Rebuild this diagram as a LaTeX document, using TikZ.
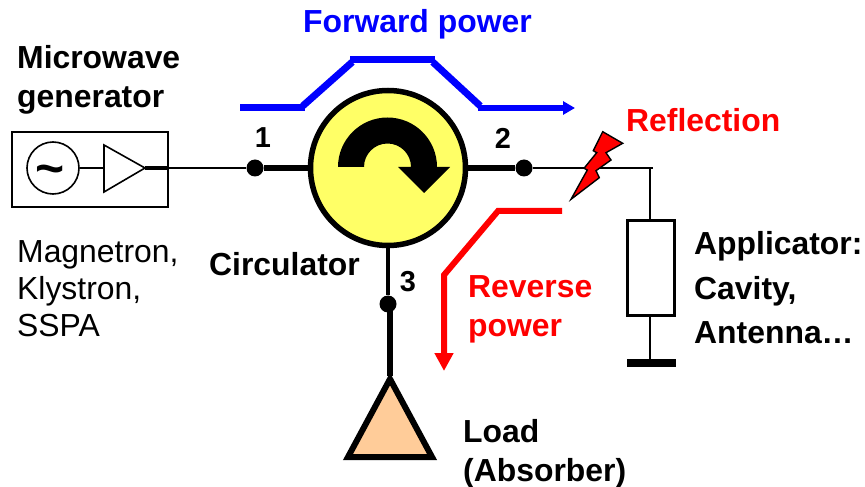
\documentclass[tikz,border=0pt]{standalone}
\usepackage{fontspec}
\setmainfont{Liberation Sans}
\usetikzlibrary{arrows.meta}
\definecolor{circY}{HTML}{FFFF66}
\definecolor{loadO}{HTML}{FFCC99}
\definecolor{bluep}{HTML}{0000FF}
\definecolor{redp}{HTML}{FF0000}
\tikzset{
 lbl/.style={anchor=base west,inner sep=0pt,font=\fontsize{32}{32}\selectfont\bfseries},
 lblr/.style={anchor=base west,inner sep=0pt,font=\fontsize{32}{32}\selectfont},
 num/.style={anchor=center,inner sep=0pt,font=\fontsize{29}{29}\selectfont\bfseries},
 dotn/.style={circle,fill=black,inner sep=0pt,minimum size=17bp},
 thin line/.style={line width=2.2bp,black},
 thick line/.style={line width=5.5bp,black},
 powerb/.style={line width=7bp,bluep,line join=miter},
 powerr/.style={line width=6bp,redp,line join=miter},
}
\begin{document}
\begin{tikzpicture}[x=1bp,y=-1bp]
\useasboundingbox (0,0) rectangle (865,487);
% generator
\node[draw,line width=2bp,minimum width=155bp,minimum height=75bp,inner sep=0pt] (gen) at (90,170) {};
\node[draw,circle,line width=1.6bp,minimum size=52bp,inner sep=0pt] (osc) at (53,168) {};
\node[inner sep=0pt,font=\fontsize{50}{50}\selectfont\bfseries] (tilde) at (50,175) {\char"007E};
\coordinate (ampa) at (104,145);
\coordinate (ampb) at (104,192);
\coordinate (ampc) at (145,168);
\draw[line width=1.6bp,miter limit=20] (ampa) -- (ampb) -- (ampc) -- cycle;
\draw[line width=1.8bp] (osc.east) -- (ampa |- osc.east);
% dots
\node[dotn] (d1) at (255,168) {};
\node[dotn] (d2) at (524,168) {};
\node[dotn] (d3) at (388,304) {};
% circulator
\node[circle,draw=black,fill=circY,line width=5.5bp,minimum size=155bp,inner sep=0pt] (circ) at (388,168) {};
\fill[black] (338,167) arc[start angle=180,end angle=0,radius=49.5bp] -- (450,167) -- (424,193) -- (398,167) -- (411,167) arc[start angle=0,end angle=180,radius=23.5bp] -- cycle;
% connectors
\draw[line width=3.5bp] (ampc) -- (gen.east |- ampc);
\draw[thin line] (gen.east |- ampc) -- (d1);
\draw[thick line] (d1) -- (circ.west);
\draw[thick line] (circ.east) -- (d2);
\coordinate (junc) at (653,168);
\draw[thin line] (d2) -- (junc);
\node[draw,line width=2.4bp,minimum width=47bp,minimum height=95bp,inner sep=0pt] (appl) at (651,268) {};
\draw[line width=2.6bp] (650,168) -- (650,220.5);
\draw[line width=2.6bp] (650,316) -- (650,360);
\node[fill=black,minimum width=49bp,minimum height=8bp,inner sep=0pt] (gnd) at (651.5,363) {};
% load
\draw[line width=4.5bp] (circ.south) -- (d3);
\coordinate (la) at (390,379);
\coordinate (lb) at (348,457);
\coordinate (lc) at (432,457);
\draw[line width=6bp] (390,304) -- (390,376);
\draw[line width=6bp,fill=loadO,miter limit=20] (la) -- (lb) -- (lc) -- cycle;
% power arrows
\coordinate (f0) at (240,108);
\coordinate (f1) at (305,108);
\coordinate (f2) at (350,60);
\coordinate (f3) at (435,60);
\coordinate (f4) at (478,108);
\coordinate (f5) at (575,108);
\draw[powerb] (f0) -- (f1);
\draw[powerb] ([xshift=-2.3bp,yshift=2bp]f1) -- ([xshift=2.3bp,yshift=-2bp]f2);
\draw[powerb] (f2) -- (f3);
\draw[powerb] ([xshift=-2.3bp,yshift=-2bp]f3) -- ([xshift=2.3bp,yshift=2bp]f4);
\draw[line width=5.5bp,bluep,-{Triangle[length=12bp,width=13bp]}] (f4) -- (f5);
\coordinate (r0) at (562,211);
\coordinate (r1) at (498,211);
\coordinate (r2) at (444,275);
\coordinate (r3) at (444,371);
\draw[powerr,-{Triangle[length=18bp,width=18bp]}] (r0) -- (r1) -- (r2) -- (r3);
% lightning
\draw[fill=redp,draw=black,line width=1.4bp,line join=miter]
 (602.7,131.7) -- (622.7,143.3) -- (606,152.7) -- (611,160) -- (596,170.7) -- (599.3,177.7) -- (571,199.3) -- (587.3,170) -- (584,168.3) -- (596.7,152.7) -- (593.3,150.7) -- cycle;
% labels
\node[lbl,bluep] (tf) at (303,33) {Forward power};
\node[lbl] (tm) at (17,69) {Microwave};
\node[lbl] (tg) at (17,108) {generator};
\node[lblr] (t1) at (17,263) {Magnetron,};
\node[lblr] (t2) at (17,300) {Klystron,};
\node[lblr] (t3) at (17,337) {SSPA};
\node[lbl] (tc) at (209,276) {Circulator};
\node[num] (n1) at (263,138) {1};
\node[num] (n2) at (503,138) {2};
\node[num] (n3) at (408,282) {3};
\node[lbl,redp] (tr) at (626,132) {Reflection};
\node[lbl,redp] (trv) at (468,298) {Reverse};
\node[lbl,redp] (tpw) at (468,337) {power};
\node[lbl] (ta) at (694,255) {Applicator:};
\node[lbl] (tcv) at (694,300) {Cavity,};
\node[lbl] (tan) at (694,344) {Antenna…};
\node[lbl] (tl) at (463,442) {Load};
\node[lbl] (tab) at (463,481) {(Absorber)};
\end{tikzpicture}
\end{document}
